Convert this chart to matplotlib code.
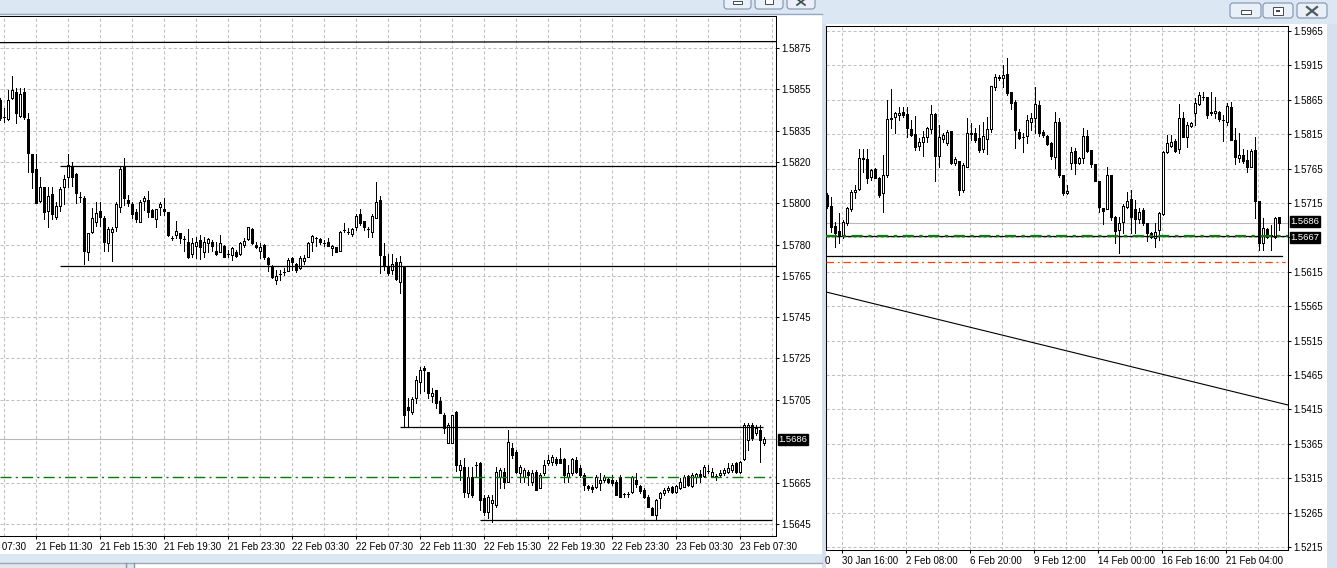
import numpy as np
import matplotlib
matplotlib.use("Agg")
import matplotlib.pyplot as plt
from matplotlib.patches import Rectangle, FancyBboxPatch
from matplotlib.transforms import blended_transform_factory as btf

# ---------------- DATA: left window (M15) ----------------
l_open = [1.58499,1.58417,1.58407,1.58509,1.58537,1.58422,1.58537,1.58407,1.58238,1.58166,
1.58011,1.58079,1.57963,1.58045,1.57934,1.57987,1.58079,1.58127,1.58180,1.58141,
1.58030,1.58025,1.57765,1.57861,1.57910,1.57963,1.57929,1.57808,1.57861,1.57885,
1.57982,1.58175,1.58016,1.57997,1.57958,1.57910,1.58011,1.58016,1.57968,1.57924,
1.57982,1.57973,1.57958,1.57832,1.57847,1.57856,1.57828,1.57813,1.57755,1.57794,
1.57823,1.57765,1.57808,1.57813,1.57770,1.57765,1.57794,1.57755,1.57750,1.57765,
1.57755,1.57799,1.57828,1.57876,1.57799,1.57770,1.57799,1.57736,1.57692,1.57629,
1.57658,1.57668,1.57673,1.57736,1.57707,1.57687,1.57721,1.57741,1.57813,1.57832,
1.57828,1.57808,1.57813,1.57784,1.57789,1.57770,1.57871,1.57861,1.57852,1.57885,
1.57948,1.57914,1.57876,1.57861,1.57929,1.58016,1.57745,1.57692,1.57678,1.57716,
1.57620,1.57692,1.57016,1.56992,1.57060,1.57137,1.57204,1.57185,1.57069,1.57098,
1.57045,1.56977,1.56842,1.56842,1.56992,1.56712,1.56726,1.56601,1.56678,1.56736,
1.56745,1.56577,1.56509,1.56552,1.56543,1.56678,1.56702,1.56654,1.56818,1.56799,
1.56697,1.56678,1.56702,1.56654,1.56702,1.56625,1.56697,1.56745,1.56750,1.56765,
1.56765,1.56765,1.56678,1.56697,1.56760,1.56721,1.56688,1.56635,1.56630,1.56630,
1.56649,1.56663,1.56668,1.56663,1.56654,1.56678,1.56596,1.56596,1.56606,1.56663,
1.56635,1.56615,1.56581,1.56528,1.56494,1.56577,1.56601,1.56615,1.56630,1.56606,
1.56625,1.56630,1.56683,1.56635,1.56678,1.56692,1.56683,1.56707,1.56683,1.56683,
1.56688,1.56697,1.56702,1.56712,1.56745,1.56702,1.56765,1.56857,1.56929,1.56890,
1.56905,1.56842]
l_high = [1.58509,1.58460,1.58547,1.58615,1.58557,1.58557,1.58557,1.58436,1.58240,1.58238,
1.58127,1.58080,1.58079,1.58079,1.58006,1.58079,1.58137,1.58238,1.58199,1.58146,
1.58055,1.58035,1.57856,1.57977,1.58006,1.58006,1.57939,1.57885,1.57885,1.58006,
1.58175,1.58219,1.58040,1.58006,1.57973,1.58016,1.58035,1.58059,1.57973,1.57973,
1.58006,1.58025,1.57960,1.57842,1.57914,1.57858,1.57842,1.57876,1.57832,1.57837,
1.57847,1.57837,1.57832,1.57823,1.57813,1.57847,1.57799,1.57774,1.57789,1.57774,
1.57813,1.57832,1.57887,1.57881,1.57813,1.57808,1.57801,1.57741,1.57702,1.57678,
1.57678,1.57687,1.57736,1.57741,1.57709,1.57745,1.57750,1.57813,1.57847,1.57837,
1.57832,1.57823,1.57832,1.57799,1.57791,1.57866,1.57905,1.57881,1.57881,1.57948,
1.57973,1.57916,1.57885,1.57948,1.58103,1.58035,1.57808,1.57755,1.57755,1.57736,
1.57745,1.57694,1.57060,1.57064,1.57166,1.57209,1.57214,1.57187,1.57108,1.57100,
1.57064,1.56987,1.56939,1.56979,1.56997,1.56760,1.56770,1.56726,1.56726,1.56750,
1.56750,1.56591,1.56591,1.56591,1.56726,1.56721,1.56721,1.56905,1.56842,1.56808,
1.56736,1.56721,1.56712,1.56712,1.56712,1.56697,1.56760,1.56784,1.56784,1.56775,
1.56818,1.56767,1.56736,1.56770,1.56775,1.56736,1.56697,1.56639,1.56639,1.56688,
1.56697,1.56688,1.56678,1.56688,1.56663,1.56688,1.56601,1.56606,1.56683,1.56697,
1.56639,1.56625,1.56591,1.56533,1.56572,1.56606,1.56625,1.56635,1.56635,1.56639,
1.56673,1.56688,1.56685,1.56697,1.56697,1.56712,1.56736,1.56736,1.56721,1.56692,
1.56712,1.56721,1.56745,1.56745,1.56750,1.56755,1.56939,1.56939,1.56939,1.56931,
1.56929,1.56871]
l_low = [1.58402,1.58393,1.58402,1.58505,1.58388,1.58417,1.58407,1.58151,1.58074,1.57999,
1.58008,1.57924,1.57885,1.57924,1.57924,1.57963,1.57997,1.58079,1.58083,1.58001,
1.58006,1.57707,1.57726,1.57856,1.57890,1.57890,1.57770,1.57770,1.57721,1.57866,
1.57958,1.57992,1.57987,1.57929,1.57910,1.57908,1.57968,1.57934,1.57932,1.57885,
1.57943,1.57943,1.57842,1.57823,1.57832,1.57808,1.57770,1.57736,1.57741,1.57736,
1.57731,1.57741,1.57765,1.57770,1.57750,1.57763,1.57739,1.57741,1.57726,1.57741,
1.57750,1.57789,1.57823,1.57803,1.57784,1.57736,1.57731,1.57673,1.57639,1.57610,
1.57629,1.57654,1.57671,1.57678,1.57668,1.57683,1.57707,1.57739,1.57770,1.57794,
1.57803,1.57794,1.57792,1.57750,1.57763,1.57768,1.57861,1.57852,1.57842,1.57871,
1.57895,1.57871,1.57837,1.57837,1.57927,1.57663,1.57678,1.57654,1.57658,1.57629,
1.57567,1.56919,1.56919,1.56982,1.57035,1.57084,1.57093,1.57060,1.57040,1.57011,
1.56985,1.56890,1.56840,1.56840,1.56707,1.56663,1.56581,1.56581,1.56581,1.56678,
1.56519,1.56494,1.56480,1.56461,1.56533,1.56625,1.56625,1.56652,1.56770,1.56697,
1.56654,1.56654,1.56639,1.56639,1.56613,1.56623,1.56688,1.56736,1.56736,1.56736,
1.56743,1.56654,1.56654,1.56688,1.56697,1.56678,1.56615,1.56615,1.56606,1.56625,
1.56615,1.56654,1.56649,1.56639,1.56589,1.56579,1.56581,1.56581,1.56601,1.56630,
1.56601,1.56577,1.56531,1.56492,1.56470,1.56528,1.56591,1.56606,1.56601,1.56601,
1.56620,1.56628,1.56635,1.56630,1.56649,1.56654,1.56678,1.56697,1.56678,1.56663,
1.56681,1.56686,1.56695,1.56700,1.56697,1.56697,1.56760,1.56808,1.56855,1.56881,
1.56750,1.56833]
l_close = [1.58412,1.58417,1.58499,1.58547,1.58436,1.58528,1.58417,1.58243,1.58151,1.58001,
1.58079,1.57958,1.58035,1.57948,1.57987,1.58069,1.58117,1.58185,1.58127,1.58050,
1.58030,1.57770,1.57856,1.57929,1.57953,1.57934,1.57813,1.57876,1.57876,1.57997,
1.58166,1.58025,1.58001,1.57948,1.57924,1.58006,1.58025,1.57958,1.57934,1.57973,
1.57997,1.57963,1.57847,1.57832,1.57866,1.57832,1.57828,1.57741,1.57808,1.57813,
1.57789,1.57813,1.57828,1.57794,1.57755,1.57808,1.57741,1.57755,1.57784,1.57745,
1.57808,1.57818,1.57885,1.57808,1.57789,1.57789,1.57741,1.57707,1.57644,1.57649,
1.57658,1.57668,1.57726,1.57716,1.57678,1.57736,1.57736,1.57808,1.57842,1.57832,
1.57813,1.57808,1.57794,1.57794,1.57765,1.57861,1.57871,1.57861,1.57876,1.57939,
1.57905,1.57885,1.57876,1.57939,1.58006,1.57750,1.57702,1.57663,1.57707,1.57634,
1.57716,1.56977,1.57002,1.57055,1.57146,1.57195,1.57195,1.57084,1.57084,1.57035,
1.56987,1.56915,1.56929,1.56977,1.56736,1.56736,1.56606,1.56678,1.56591,1.56736,
1.56567,1.56509,1.56581,1.56567,1.56702,1.56712,1.56654,1.56847,1.56784,1.56702,
1.56726,1.56712,1.56688,1.56697,1.56615,1.56688,1.56736,1.56760,1.56775,1.56745,
1.56745,1.56688,1.56697,1.56765,1.56702,1.56688,1.56639,1.56625,1.56620,1.56678,
1.56663,1.56678,1.56654,1.56649,1.56591,1.56581,1.56596,1.56596,1.56678,1.56644,
1.56610,1.56581,1.56533,1.56494,1.56567,1.56601,1.56615,1.56625,1.56606,1.56635,
1.56654,1.56678,1.56639,1.56688,1.56692,1.56678,1.56726,1.56707,1.56702,1.56683,
1.56697,1.56712,1.56721,1.56736,1.56702,1.56750,1.56929,1.56929,1.56866,1.56915,
1.56857,1.56862]
l_xlabels = ["21 Feb 11:30", "21 Feb 15:30", "21 Feb 19:30", "21 Feb 23:30",
             "22 Feb 03:30", "22 Feb 07:30", "22 Feb 11:30", "22 Feb 15:30",
             "22 Feb 19:30", "22 Feb 23:30", "23 Feb 03:30", "23 Feb 07:30"]
l_first_label_bar = 9        # bar of "21 Feb 11:30"
l_bars_per_label = 16        # 4 hours of M15 bars
l_yticks = [1.5875, 1.5855, 1.5835, 1.5820, 1.5800, 1.5780, 1.5765,
            1.5745, 1.5725, 1.5705, 1.5665, 1.5645]
l_bid = 1.5686
l_level_green = 1.56676
l_trend_top = [(0, 1.58776), (194, 1.58781)]
l_hlines = [(1.58180, 15, 194), (1.57695, 15, 194),
            (1.56919, 100, 190.75), (1.56470, 120, 193)]

# ---------------- DATA: right window (H4) ----------------
r_open = [1.57266,1.57106,1.56816,1.56743,1.56685,1.56859,1.57063,1.57310,1.57353,1.57804,
1.57790,1.57528,1.57644,1.57513,1.57295,1.57557,1.58371,1.58400,1.58429,1.58473,
1.58444,1.58226,1.58153,1.57978,1.58037,1.58109,1.58226,1.58444,1.57833,1.58080,
1.58022,1.58196,1.57731,1.57760,1.57339,1.57673,1.58153,1.58167,1.58095,1.57935,
1.58080,1.58226,1.58836,1.58981,1.58967,1.59025,1.58763,1.58618,1.58182,1.58109,
1.58124,1.58327,1.58385,1.58574,1.58182,1.58124,1.58022,1.57819,1.58327,1.57557,
1.57295,1.57731,1.57906,1.57731,1.57804,1.58124,1.57920,1.57717,1.57470,1.57077,
1.57063,1.57557,1.56947,1.56758,1.56874,1.57092,1.57208,1.57063,1.56917,1.57048,
1.56859,1.56714,1.56641,1.56758,1.56990,1.57891,1.57978,1.58051,1.57935,1.58385,
1.58109,1.58269,1.58458,1.58589,1.58691,1.58691,1.58473,1.58458,1.58473,1.58356,
1.58327,1.58545,1.58066,1.57804,1.57848,1.57775,1.57673,1.57920,1.57179,1.56569,
1.56772,1.56685,1.56656,1.56947]
r_high = [1.57295,1.57237,1.56874,1.57005,1.56903,1.57092,1.57339,1.57412,1.57935,1.57935,
1.57935,1.57644,1.57659,1.57528,1.57848,1.58647,1.58807,1.58473,1.58545,1.58545,
1.58545,1.58356,1.58414,1.58095,1.58196,1.58255,1.58574,1.58458,1.58284,1.58167,
1.58211,1.58198,1.57819,1.57762,1.57731,1.58385,1.58313,1.58240,1.58284,1.58327,
1.58400,1.58851,1.59025,1.59010,1.59156,1.59258,1.58765,1.58647,1.58226,1.58167,
1.58429,1.58458,1.58836,1.58633,1.58211,1.58138,1.58037,1.58473,1.58385,1.57559,
1.57412,1.57964,1.57949,1.57819,1.58240,1.58211,1.57922,1.57719,1.57472,1.57079,
1.57673,1.57559,1.56961,1.56947,1.57135,1.57310,1.57339,1.57194,1.57077,1.57077,
1.56861,1.56728,1.56859,1.57019,1.57906,1.58138,1.58138,1.58080,1.58589,1.58473,
1.58327,1.58327,1.58676,1.58763,1.58763,1.58693,1.58763,1.58691,1.58487,1.58429,
1.58603,1.58618,1.58240,1.58167,1.57935,1.57920,1.57935,1.58109,1.57181,1.56932,
1.56787,1.56830,1.56947,1.56949]
r_low = [1.57077,1.56728,1.56510,1.56569,1.56641,1.56830,1.57034,1.57223,1.57339,1.57601,
1.57441,1.57484,1.57510,1.57237,1.57019,1.57528,1.58240,1.58167,1.58356,1.58400,
1.58109,1.58124,1.57920,1.57920,1.57833,1.58037,1.58167,1.57470,1.57673,1.58037,
1.57993,1.57717,1.57702,1.57266,1.57310,1.57671,1.58066,1.58037,1.57891,1.57891,
1.57862,1.58182,1.58792,1.58938,1.58836,1.58720,1.58516,1.57949,1.58080,1.57891,
1.58022,1.58211,1.58167,1.58124,1.58109,1.57993,1.57790,1.57659,1.57528,1.57266,
1.57281,1.57644,1.57572,1.57717,1.57731,1.57891,1.57673,1.57470,1.57019,1.56845,
1.57061,1.56903,1.56569,1.56423,1.56714,1.57077,1.56714,1.56714,1.56859,1.56830,
1.56598,1.56641,1.56510,1.56612,1.56976,1.57877,1.57964,1.57891,1.57877,1.58105,
1.57964,1.58255,1.58284,1.58574,1.58647,1.58385,1.58429,1.58385,1.58342,1.58051,
1.58284,1.58066,1.57717,1.57746,1.57731,1.57601,1.57671,1.56932,1.56468,1.56468,
1.56641,1.56468,1.56641,1.56758]
r_close = [1.57106,1.56801,1.56714,1.56685,1.56874,1.57077,1.57310,1.57339,1.57804,1.57790,
1.57513,1.57630,1.57515,1.57266,1.57557,1.58371,1.58385,1.58458,1.58458,1.58429,
1.58240,1.58138,1.57964,1.58037,1.58109,1.58240,1.58444,1.57833,1.58109,1.58138,
1.58182,1.57731,1.57790,1.57339,1.57702,1.58167,1.58167,1.58066,1.57920,1.58124,
1.58226,1.58849,1.58981,1.58967,1.59010,1.58749,1.58603,1.58211,1.58095,1.58109,
1.58356,1.58385,1.58589,1.58167,1.58138,1.58008,1.57833,1.58327,1.57557,1.57295,
1.57324,1.57891,1.57731,1.57804,1.58124,1.57906,1.57717,1.57472,1.57092,1.57034,
1.57557,1.56947,1.56743,1.56859,1.57106,1.57179,1.56947,1.56917,1.57019,1.56859,
1.56714,1.56656,1.56728,1.57005,1.57891,1.58022,1.58037,1.57906,1.58385,1.58109,
1.58284,1.58313,1.58603,1.58720,1.58691,1.58429,1.58458,1.58487,1.58371,1.58356,
1.58560,1.58068,1.57819,1.57848,1.57760,1.57673,1.57906,1.57179,1.56569,1.56787,
1.56656,1.56685,1.56932,1.56860]
r_xlabels = ["30 Jan 16:00", "2 Feb 08:00", "6 Feb 20:00", "9 Feb 12:00",
             "14 Feb 00:00", "16 Feb 16:00", "21 Feb 04:00"]
r_first_label_bar = 3.83
r_bars_per_label = 16
r_yticks = [1.5965, 1.5915, 1.5865, 1.5815, 1.5765, 1.5715, 1.5665, 1.5615,
            1.5565, 1.5515, 1.5465, 1.5415, 1.5365, 1.5315, 1.5265, 1.5215]
r_hidden_ylabels = [1.5665]     # covered by the 1.5667 price tag
r_bid = 1.5686
r_level = 1.5667
r_level_low = (1.56380, -0.2, 113.8)
r_level_orange = (1.56292, -0.2, 114.5)
r_trend = [(-0.2, 1.55857), (115.3, 1.54214)]

# ---------------- FIGURE ----------------
plt.rcParams['font.family'] = ['Liberation Sans', 'DejaVu Sans']
plt.rcParams['font.size'] = 7
plt.rcParams['axes.linewidth'] = 0.75

W, H = 1337, 568
fig = plt.figure(figsize=(W / 100, H / 100), dpi=100)

def rect(x0, y0, x1, y1):
    return [x0 / W, 1 - y1 / H, (x1 - x0) / W, (y1 - y0) / H]

FRAME = '#d6e1ef'
TITLE = '#dce7f4'
bg = fig.add_axes([0, 0, 1, 1])
bg.set_xlim(0, W); bg.set_ylim(H, 0); bg.axis('off')
bg.add_patch(Rectangle((0, 0), W, H, fc=FRAME, ec='none'))
# left window
bg.add_patch(Rectangle((0, 0), 822, 13, fc=TITLE, ec='none'))
bg.plot([0, 822], [13.5, 13.5], color='#9aa9bf', lw=1)
bg.add_patch(Rectangle((0, 14), 822, 540, fc='white', ec='none'))
bg.add_patch(Rectangle((0, 554), 822, 14, fc=TITLE, ec='none'))
bg.plot([0, 822], [562.5, 562.5], color='#a0a8b4', lw=1)
bg.add_patch(Rectangle((0, 563), 125, 5, fc='#e4e8ee', ec='none'))
bg.add_patch(Rectangle((134, 563), 688, 5, fc='white', ec='none'))
bg.plot([125.5, 125.5], [563, 568], color='#8a94a4', lw=1)
bg.plot([133.5, 133.5], [563, 568], color='#8a94a4', lw=1)
# right window
bg.add_patch(Rectangle((822, 0), 515, 24, fc=TITLE, ec='none'))
bg.add_patch(Rectangle((826, 24), 501, 544, fc='white', ec='none'))

def button(x0, y0, x1, y1):
    bg.add_patch(FancyBboxPatch((x0, y0), x1 - x0, y1 - y0,
                 boxstyle='round,pad=0,rounding_size=3', fc='#eaf0f8', ec='#7f92ae', lw=0.8))

for (x0, x1) in [(724, 751), (755, 783), (787, 815)]:
    button(x0, -6, x1, 9)
bg.add_patch(Rectangle((733, 1), 9, 3, fc='white', ec='#404850', lw=0.7))
bg.add_patch(Rectangle((765, -1), 8, 5, fc='white', ec='#404850', lw=0.7))
bg.plot([797, 805], [-1, 5], color='#404850', lw=1.2)
bg.plot([797, 805], [5, -1], color='#404850', lw=1.2)
for (x0, x1) in [(1230, 1261), (1263, 1293), (1297, 1327)]:
    button(x0, 3, x1, 18)
bg.add_patch(Rectangle((1241, 10), 10, 4, fc='white', ec='#404850', lw=0.7))
bg.add_patch(Rectangle((1273, 7), 10, 8, fc='white', ec='#404850', lw=0.7))
bg.add_patch(Rectangle((1276, 10), 4, 2, fc='#404850', ec='none'))
bg.plot([1307, 1317], [7, 15], color='#505860', lw=1.6)
bg.plot([1307, 1317], [15, 7], color='#505860', lw=1.6)
# partial labels cut at window edges
bg.text(-31, 541.5, "21 Feb 07:30", ha='left', va='top', fontsize=7)
bg.text(825, 556, "0", ha='left', va='top', fontsize=7)

GRID = dict(color='#c0c0c0', lw=0.75, ls=(0, (3, 2.2)))


def draw_candles(ax, o, h, l, c):
    o, h, l, c = map(np.asarray, (o, h, l, c))
    x = np.arange(len(o))
    ax.vlines(x, l, h, color='black', lw=0.55, zorder=3, antialiased=False)
    up = c >= o
    ax.bar(x[up], c[up] - o[up], bottom=o[up], width=0.5, facecolor='white',
           edgecolor='black', lw=0.55, zorder=4, antialiased=False)
    ax.bar(x[~up], o[~up] - c[~up], bottom=c[~up], width=0.5, facecolor='black',
           edgecolor='black', lw=0.55, zorder=4, antialiased=False)


def price_box(ax, price, text, dy=0.0):
    ax.annotate(text, xy=(1, price), xycoords=btf(ax.transAxes, ax.transData),
                xytext=(1.8, dy), textcoords='offset points', ha='left', va='center',
                color='white', fontsize=6.8, zorder=20, annotation_clip=False,
                bbox=dict(boxstyle='square,pad=0.1', fc='black', ec='black'))


def style_axis(ax, yticks, xticks, xlabels, minor, hidden=()):
    ax.set_facecolor('white')
    ax.yaxis.tick_right()
    ax.set_yticks(yticks)
    ax.set_yticklabels(["" if v in hidden else f"{v:.4f}" for v in yticks])
    ax.set_xticks(xticks)
    ax.set_xticklabels(xlabels)
    ax.set_xticks(minor, minor=True)
    for t in ax.get_xticklabels():
        t.set_ha('left')
    ax.tick_params(axis='y', direction='out', length=2.5, width=0.75, pad=1.6, labelsize=7)
    ax.tick_params(axis='x', which='major', direction='out', length=2.5, width=0.75, pad=1.8, labelsize=7)
    ax.tick_params(axis='x', which='minor', length=0)
    ax.set_axisbelow(True)
    ax.grid(True, which='both', axis='x', **GRID)
    ax.grid(True, which='major', axis='y', **GRID)


# ---- left chart ----
axL = fig.add_axes(rect(0, 16, 776, 536))
axL.set_xlim(-0.1, 193.9)
axL.set_ylim(1.563925, 1.589046)
lx = [l_first_label_bar + l_bars_per_label * i for i in range(len(l_xlabels))]
style_axis(axL, l_yticks, lx, l_xlabels, np.arange(l_first_label_bar - 8, 194, 8))
axL.spines['left'].set_visible(False)
axL.axhline(l_bid, color='#b8b8b8', lw=0.8, zorder=2)
draw_candles(axL, l_open, l_high, l_low, l_close)
axL.axhline(l_level_green, color='#0a7a0a', lw=1.0, ls=(0, (8, 3, 1.5, 3)), zorder=5)
axL.plot([p[0] for p in l_trend_top], [p[1] for p in l_trend_top], color='black', lw=0.9, zorder=6)
for lvl, a, b in l_hlines:
    axL.plot([a, b], [lvl, lvl], color='black', lw=0.9, zorder=6, solid_capstyle='butt')
price_box(axL, l_bid, f"{l_bid:.4f}")

# ---- right chart ----
axR = fig.add_axes(rect(826, 26, 1288, 550))
axR.set_xlim(-0.175, 115.325)
axR.set_ylim(1.52106, 1.59723)
rx = [r_first_label_bar + r_bars_per_label * i for i in range(len(r_xlabels))]
style_axis(axR, r_yticks, rx, r_xlabels, np.arange(r_first_label_bar, 115, 8),
           hidden=r_hidden_ylabels)
axR.axhline(r_bid, color='#b8b8b8', lw=0.8, zorder=2)
draw_candles(axR, r_open, r_high, r_low, r_close)
axR.axhline(r_level, color='black', lw=0.9, zorder=5)
axR.axhline(r_level, color='#0a7a0a', lw=1.6, ls=(0, (5, 2.5, 1.5, 2.5)), zorder=6)
lvl, a, b = r_level_low
axR.plot([a, b], [lvl, lvl], color='black', lw=0.9, zorder=6)
lvl, a, b = r_level_orange
axR.plot([a, b], [lvl, lvl], color='#ff4500', lw=0.9, ls=(0, (6, 3, 1.5, 3)), zorder=6)
axR.plot([p[0] for p in r_trend], [p[1] for p in r_trend], color='black', lw=0.8, zorder=6)
price_box(axR, r_bid, f"{r_bid:.4f}", dy=0.8)
price_box(axR, r_level, f"{r_level:.4f}", dy=-0.8)

fig.savefig("out.png", dpi=100)
